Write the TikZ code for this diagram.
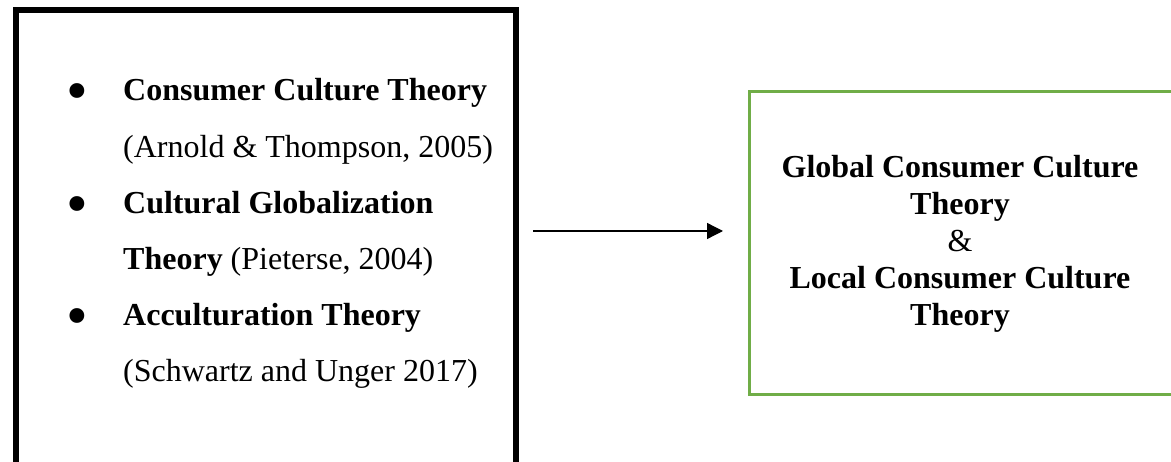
\documentclass[tikz,border=0pt]{standalone}
\usepackage{fontspec}
\setmainfont{Liberation Serif}
\usetikzlibrary{arrows.meta}
\definecolor{accentgreen}{RGB}{112,173,71}
\tikzset{
  theorybox/.style={draw=black, line width=6pt, minimum width=499.5pt, minimum height=460pt, inner sep=0pt},
  resultbox/.style={draw=accentgreen, line width=3pt, minimum width=424pt, minimum height=303pt, inner sep=0pt},
  txt/.style={font=\fontsize{32}{37}\selectfont, inner sep=0pt, anchor=base west},
  ctr/.style={font=\fontsize{32}{37}\selectfont, inner sep=0pt, anchor=base},
  bul/.style={font=\fontsize{62}{70}\selectfont, inner sep=0pt, anchor=center},
  flow/.style={line width=1.3pt, -{Triangle[length=16pt,width=16pt]}}
}
\begin{document}
\begin{tikzpicture}[x=1pt,y=-1pt]
  \useasboundingbox (0,0) rectangle (1171,462);
  \clip (0,0) rectangle (1171,462);
  \fill[white] (0,0) rectangle (1171,462);

  % frames
  \node[theorybox] (leftbox) at (265.75,240) {};
  \node[resultbox] (rightbox) at (961,243.5) {};

  % bulleted list of theories
  \node[bul] (b1) at (77,98) {•};
  \node[txt] (l1) at (123,101) {\textbf{Consumer Culture Theory}};
  \node[txt] (l2) at (123,157.2) {(Arnold \& Thompson, 2005)};
  \node[bul] (b2) at (77,210.4) {•};
  \node[txt] (l3) at (123,213.4) {\textbf{Cultural Globalization}};
  \node[txt] (l4) at (123,269.6) {\textbf{Theory} (Pieterse, 2004)};
  \node[bul] (b3) at (77,322.8) {•};
  \node[txt] (l5) at (123,325.8) {\textbf{Acculturation Theory}};
  \node[txt] (l6) at (123,382) {(Schwartz and Unger 2017)};

  % outcome text
  \node[ctr] (r1) at (960,178) {\textbf{Global Consumer Culture}};
  \node[ctr] (r2) at (960,215) {\textbf{Theory}};
  \node[ctr] (r3) at (960,252) {\&};
  \node[ctr] (r4) at (960,289) {\textbf{Local Consumer Culture}};
  \node[ctr] (r5) at (960,326) {\textbf{Theory}};

  % connector
  \coordinate (arrowStart) at (533,231);
  \coordinate (arrowEnd) at (723,231);
  \draw[flow] (arrowStart) -- (arrowEnd);
\end{tikzpicture}
\end{document}
